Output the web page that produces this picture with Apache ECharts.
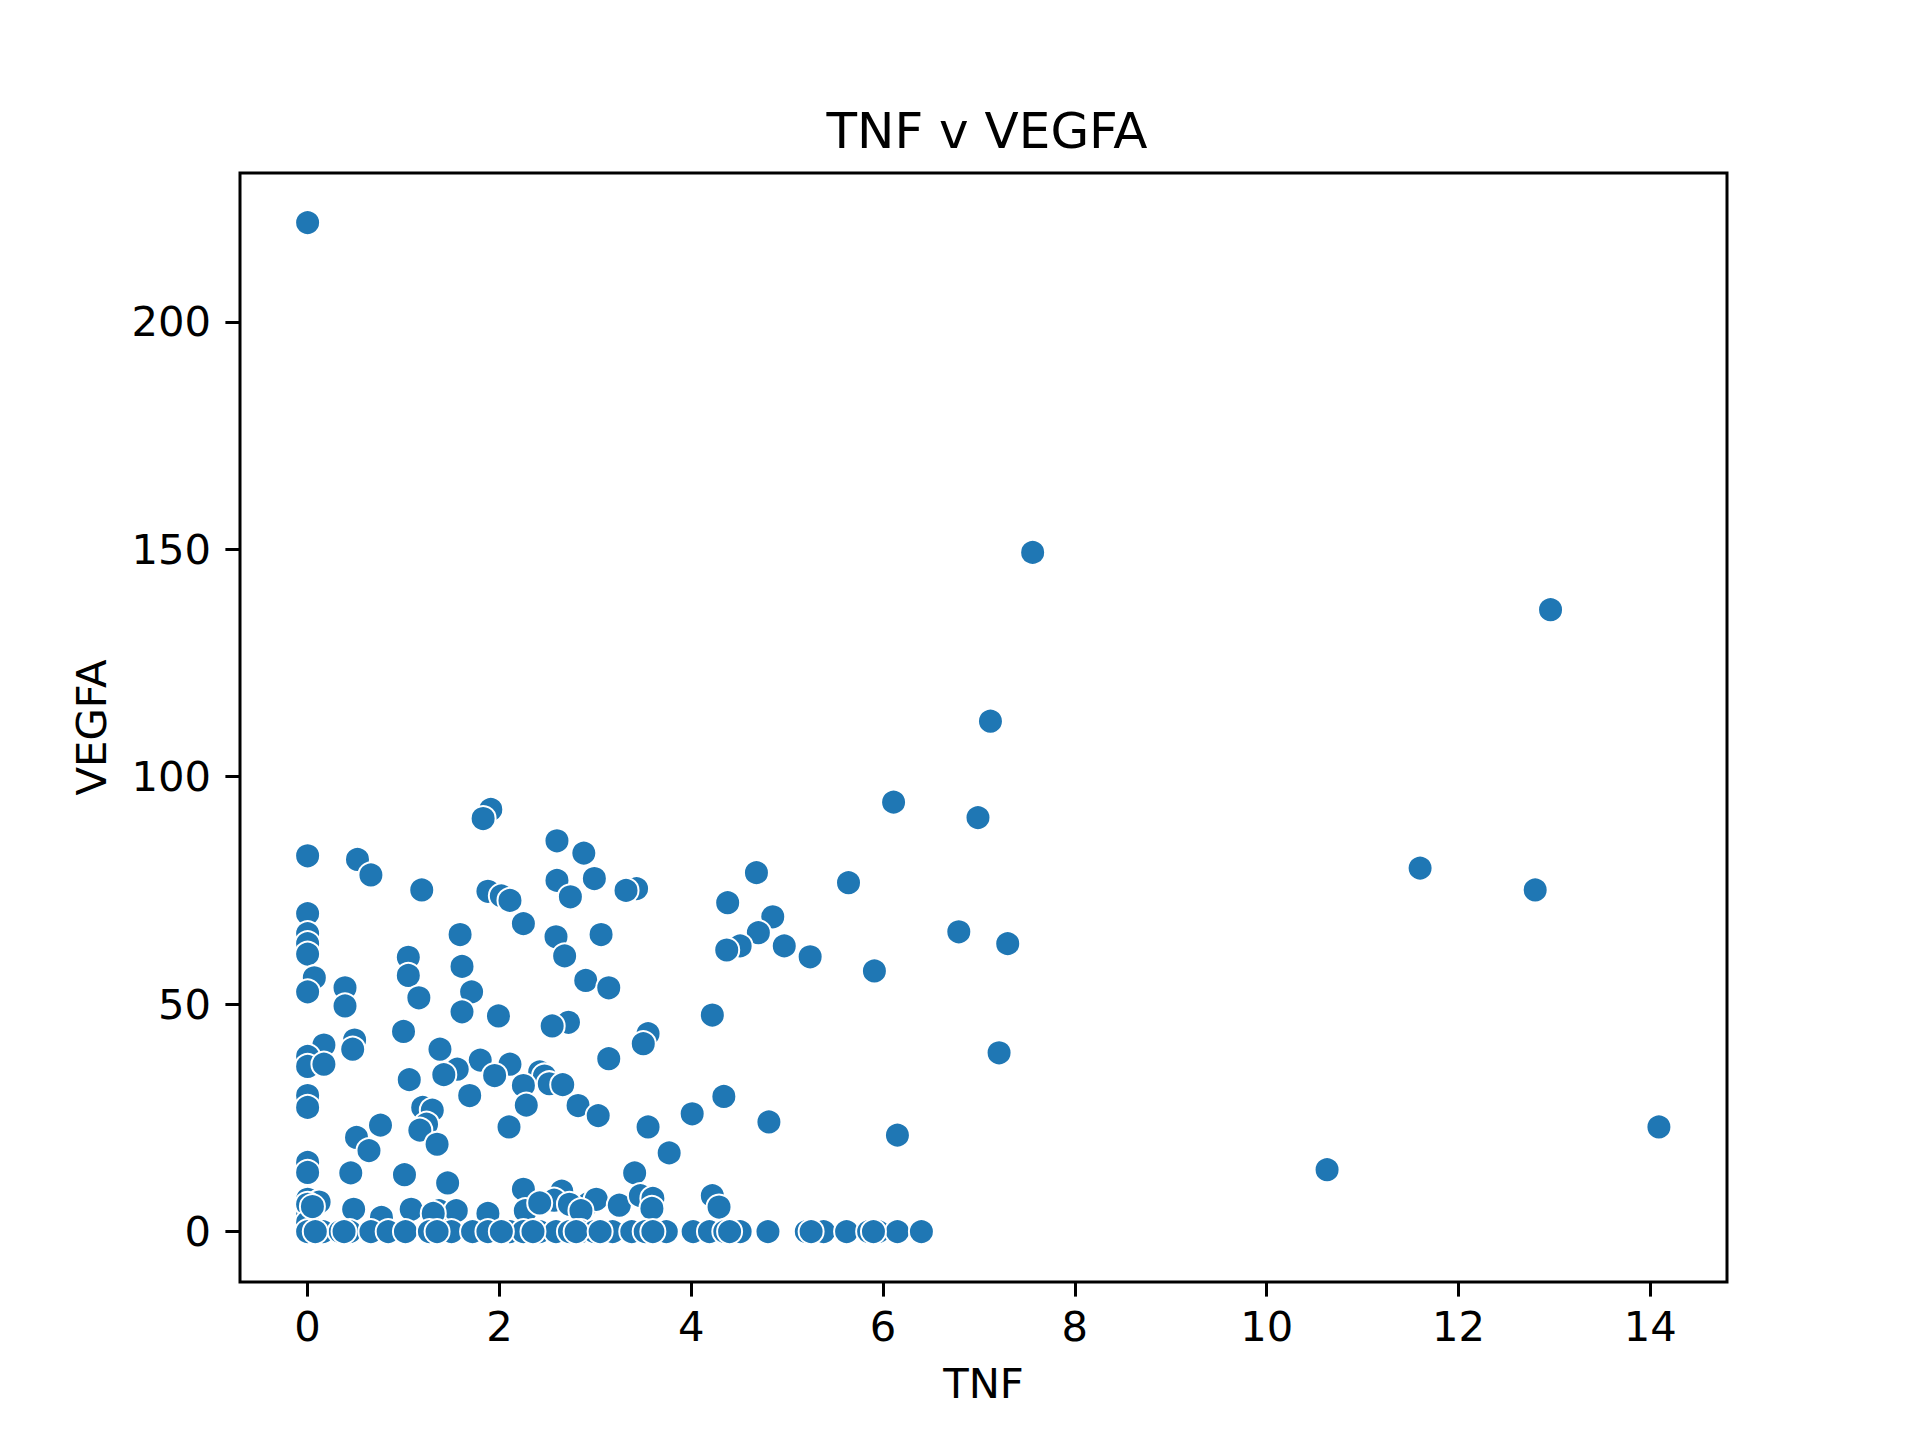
<!DOCTYPE html>
<html>
<head>
<meta charset="utf-8">
<title>TNF v VEGFA</title>
<script src="https://cdn.jsdelivr.net/npm/echarts@6/dist/echarts.min.js"></script>
<style>
  html, body { margin: 0; padding: 0; background: #fff; }
  #chart { width: 1920px; height: 1440px; }
</style>
</head>
<body>
<div id="chart"></div>
<script>
// values (TNF on x, VEGFA on y)
var tnf = [
    0, 7.56, 12.96, 7.12, 11.6, 12.8, 14.09, 10.63, 6.99, 6.11,
    4.68, 5.64, 4.38, 4.85, 4.70, 4.51, 4.37, 4.97, 5.24, 6.79, 7.30, 5.91, 4.22, 7.21, 4.34, 4.81, 6.15, 4.01, 4.22, 4.29,
    1.91, 1.83, 0, 0.52, 0.66, 1.19, 2.60, 2.88, 2.60, 2.99, 2.74, 3.43, 3.32, 1.88, 2.02, 2.11, 2.25,
    0, 0, 0, 0, 1.59, 2.59, 3.06, 2.68, 1.05, 1.05, 1.61, 1.71, 1.61, 1.16, 0.07, 0, 0.39, 0.39, 1.99,
    2.90, 3.14, 2.72, 2.55, 1.00, 3.55, 3.50, 0.49, 0.47, 0.17, 0, 0, 0.17, 1.38, 1.80, 2.11, 3.14,
    1.56, 1.42, 1.95, 1.06, 2.42, 2.47, 2.52, 2.66, 2.25, 0, 1.69,
    0, 1.20, 1.30, 1.24, 1.17, 1.35, 0.76, 0.51, 0.64, 2.28, 2.82, 3.03, 2.10, 3.55, 3.77, 3.41,
    0, 0, 0.45, 1.01, 1.46, 2.25, 2.65, 2.57, 2.93, 3.01, 3.25, 3.47, 3.60, 3.59, 2.27, 2.42, 2.73, 2.85,
    0, 0.12, 0, 0, 0.48, 0.77, 1.08, 1.37, 1.55, 1.88, 1.31, 0, 0, 0.05,
    0, 0.16, 0.34, 0.44, 0.66, 0.84, 1.02, 1.27, 1.50, 1.72, 1.88, 2.11, 2.25, 2.42, 2.59, 2.73, 2.85, 2.99,
    3.18, 3.38, 3.52, 3.74, 4.02, 4.19, 4.35, 4.51, 4.80, 5.20, 5.27, 5.38, 5.62, 5.85, 5.95, 6.15, 6.40,
    0.08, 0.38, 1.35, 2.02, 2.35, 2.80, 3.05, 3.60, 4.40, 5.25, 5.90
];
var vegfa = [
    221.8, 149.3, 136.7, 112.2, 79.9, 75.1, 23.0, 13.6, 91.0, 94.4,
    78.9, 76.7, 72.3, 69.2, 65.7, 62.8, 61.9, 62.8, 60.4, 65.9, 63.3, 57.3, 47.6, 39.3, 29.7, 24.1, 21.2, 25.9, 7.9, 5.4,
    92.8, 90.8, 82.6, 81.8, 78.4, 75.1, 85.9, 83.2, 77.2, 77.6, 73.6, 75.4, 75.0, 74.8, 73.8, 72.8, 67.7,
    69.9, 65.5, 63.3, 61.0, 65.3, 64.8, 65.3, 60.6, 60.3, 56.3, 58.3, 52.7, 48.3, 51.4, 55.8, 52.7, 53.6, 49.6, 47.4,
    55.2, 53.6, 46.0, 45.2, 44.0, 43.5, 41.3, 42.1, 40.1, 41.0, 38.5, 36.3, 36.8, 40.1, 37.7, 36.8, 38.0,
    35.7, 34.5, 34.3, 33.4, 35.1, 34.2, 32.5, 32.3, 32.1, 29.9, 29.9,
    27.3, 27.3, 26.7, 23.6, 22.3, 19.2, 23.4, 20.7, 17.8, 27.8, 27.7, 25.5, 23.0, 23.0, 17.3, 12.9,
    15.2, 13.0, 12.9, 12.5, 10.7, 9.3, 8.9, 6.9, 6.2, 7.1, 5.8, 7.9, 7.3, 5.1, 4.6, 6.3, 6.0, 4.6,
    7.1, 6.5, 4.9, 3.5, 4.9, 3.1, 4.9, 4.6, 4.6, 4.0, 4.0, 6.0, 2.0, 5.5,
    0, 0, 0, 0, 0, 0, 0, 0, 0, 0, 0, 0, 0, 0, 0, 0, 0, 0,
    0, 0, 0, 0, 0, 0, 0, 0, 0, 0, 0, 0, 0, 0, 0, 0, 0,
    0, 0, 0, 0, 0, 0, 0, 0, 0, 0, 0
];
var xTicks = [0, 2, 4, 6, 8, 10, 12, 14];
var yTicks = [0, 50, 100, 150, 200];

var points = tnf.map(function (v, i) { return [v, vegfa[i]]; });

var chart = echarts.init(document.getElementById('chart'), null, { renderer: 'svg' });

var font = 'DejaVu Sans';

chart.setOption({
    animation: false,
    backgroundColor: '#ffffff',
    title: {
        text: 'TNF v VEGFA',
        left: 982,
        top: 101,
        textAlign: 'center',
        textStyle: { fontFamily: font, fontSize: 50, fontWeight: 'normal', color: '#000' }
    },
    grid: {
        left: 240, right: 193, top: 173, bottom: 158,
        show: true, borderColor: '#000', borderWidth: 3, backgroundColor: 'transparent'
    },
    xAxis: {
        type: 'value',
        min: -0.705,
        max: 14.8,
        name: 'TNF',
        nameLocation: 'middle',
        nameGap: 80,
        nameTextStyle: { fontFamily: font, fontSize: 41.7, color: '#000' },
        axisLine: { show: false, onZero: false },
        splitLine: { show: false },
        axisTick: {
            show: true, length: 14.6, customValues: xTicks,
            lineStyle: { color: '#000', width: 3 }
        },
        axisLabel: {
            customValues: xTicks, margin: 23,
            fontFamily: font, fontSize: 41.7, color: '#000'
        }
    },
    yAxis: {
        type: 'value',
        min: -11.08,
        max: 232.7,
        name: 'VEGFA',
        nameLocation: 'middle',
        nameGap: 128,
        nameTextStyle: { fontFamily: font, fontSize: 41.7, color: '#000' },
        axisLine: { show: false, onZero: false },
        splitLine: { show: false },
        axisTick: {
            show: true, length: 14.6, customValues: yTicks,
            lineStyle: { color: '#000', width: 3 }
        },
        axisLabel: {
            customValues: yTicks, margin: 29,
            fontFamily: font, fontSize: 41.7, color: '#000'
        }
    },
    series: [{
        type: 'scatter',
        data: points,
        symbol: 'circle',
        symbolSize: 25,
        itemStyle: { color: '#1f77b4', borderColor: '#ffffff', borderWidth: 2, opacity: 1 }
    }]
});
</script>
</body>
</html>
